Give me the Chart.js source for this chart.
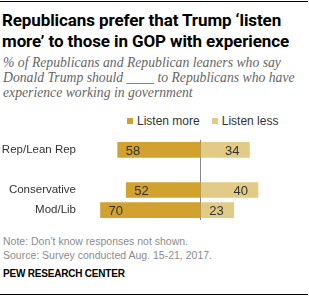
<!DOCTYPE html>
<html>
<head>
<meta charset="utf-8">
<script src="https://cdn.jsdelivr.net/npm/chart.js@4.4.0/dist/chart.umd.min.js"></script>
<style>
  body { margin: 0; background: #fff; }
  #wrap { position: relative; width: 309px; height: 296px; overflow: hidden; font-family: "Liberation Sans", Arial, sans-serif; }
  .rule { position: absolute; left: 0; width: 308px; height: 1px; background: #000; }
  #title { position: absolute; left: 2px; top: 10px; width: 307px; font: bold 17px/21px Roboto, sans-serif; color: #000; letter-spacing: -0.1px; white-space: nowrap; }
  #sub { position: absolute; left: 3px; top: 56px; width: 306px; font: italic 13.7px/14.8px "Liberation Serif", serif; color: #666; white-space: nowrap; }
  #legend { position: absolute; left: 127px; top: 114px; font-size: 12px; color: #333; white-space: nowrap; }
  #legend span.sw { display: inline-block; width: 6px; height: 6px; margin-right: 4px; vertical-align: 1px; }
  #legend span.item { margin-right: 12px; }
  #chartBox { position: absolute; left: 0; top: 130px; width: 309px; height: 100px; }
  #note { position: absolute; left: 3px; top: 234px; font-size: 10.5px; line-height: 14px; color: #8c8c8c; }
  #pew { position: absolute; left: 3px; top: 268px; font-size: 10px; font-weight: bold; color: #000; letter-spacing: -0.2px; }
</style>
</head>
<body>
<div id="wrap">
  <div class="rule" style="top:1px"></div>
  <div id="title">Republicans prefer that Trump ‘listen<br>more’ to those in GOP with experience</div>
  <div id="sub">% of Republicans and Republican leaners who say<br>Donald Trump should ____ to Republicans who have<br>experience working in government</div>
  <div id="legend"></div>
  <div id="chartBox"><canvas id="pewChart"></canvas></div>
  <div id="note">Note: Don’t know responses not shown.<br>Source: Survey conducted Aug. 15-21, 2017.</div>
  <div id="pew">PEW RESEARCH CENTER</div>
  <div class="rule" style="top:294px"></div>
</div>
<script>
// categories (blank entry keeps the gap under the total row)
const categories = ['Rep/Lean Rep', '', 'Conservative', 'Mod/Lib'];
const listenMore = [58, null, 52, 70];
const listenLess = [34, null, 40, 23];
const seriesNames = ['Listen more', 'Listen less'];
const seriesColors = ['#d2a22f', '#e2cb86'];

// simple html legend
var legendHtml = '';
seriesNames.forEach(function (name, i) {
    legendHtml += '<span class="item"><span class="sw" style="background:' + seriesColors[i] + '"></span>' + name + '</span>';
});
document.getElementById('legend').innerHTML = legendHtml;

// value labels drawn inside the bars, near the outer end
const barLabels = {
    id: 'barLabels',
    afterDatasetsDraw(chart) {
        const ctx = chart.ctx;
        ctx.save();
        ctx.font = '13px "Liberation Sans", Arial, sans-serif';
        ctx.fillStyle = '#333';
        ctx.textBaseline = 'middle';
        chart.data.datasets.forEach(function (ds, di) {
            const meta = chart.getDatasetMeta(di);
            meta.data.forEach(function (bar, i) {
                const raw = di === 0 ? listenMore[i] : listenLess[i];
                if (raw == null) return;
                if (di === 0) {
                    ctx.textAlign = 'left';
                    ctx.fillText(raw, bar.x + 8, bar.y + 1);
                } else {
                    ctx.textAlign = 'right';
                    ctx.fillText(raw, bar.x - 10, bar.y + 1);
                }
            });
        });
        ctx.restore();
    }
};

const ctx = document.getElementById('pewChart').getContext('2d');
new Chart(ctx, {
    type: 'bar',
    data: {
        labels: categories,
        datasets: [{
            label: seriesNames[0],
            data: listenMore.map(function (v) { return v == null ? null : -v; }),
            backgroundColor: seriesColors[0],
            barThickness: 15
        }, {
            label: seriesNames[1],
            data: listenLess,
            backgroundColor: seriesColors[1],
            barThickness: 15
        }]
    },
    options: {
        indexAxis: 'y',
        responsive: true,
        maintainAspectRatio: false,
        animation: false,
        layout: { padding: { top: 8, bottom: 5, left: 0, right: 8 } },
        plugins: {
            legend: { display: false },
            tooltip: { enabled: false }
        },
        scales: {
            x: {
                stacked: true,
                min: -85,
                max: 70,
                ticks: { display: false },
                border: { display: false },
                grid: {
                    drawTicks: false,
                    color: function (c) { return c.tick && c.tick.value === 0 ? '#8a8a8a' : 'transparent'; },
                    lineWidth: 1
                }
            },
            y: {
                stacked: true,
                afterFit: function (scale) { scale.width = 79; },
                border: { display: false },
                grid: { display: false, drawTicks: false },
                ticks: {
                    padding: 3,
                    color: '#333',
                    font: { size: 11.5, family: '"Liberation Sans", Arial, sans-serif' }
                }
            }
        }
    },
    plugins: [barLabels]
});
</script>
</body>
</html>
